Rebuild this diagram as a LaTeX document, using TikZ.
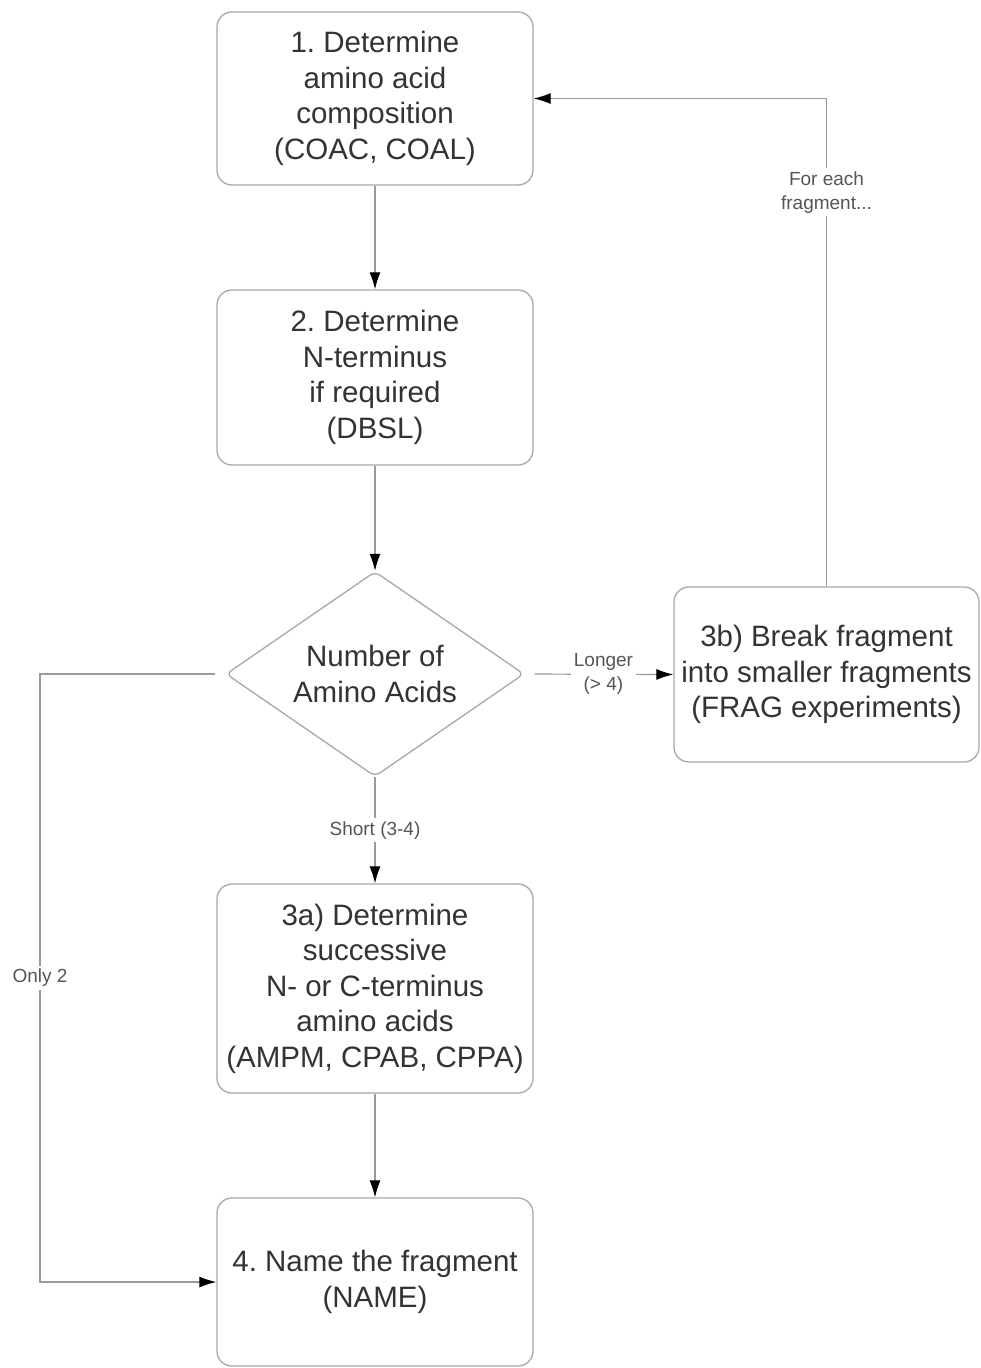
\documentclass[tikz,border=0pt]{standalone}
\usepackage{fontspec}
\setmainfont{Liberation Sans}
\frenchspacing
\usetikzlibrary{shapes.geometric,arrows.meta}
\definecolor{txt}{HTML}{333333}
\definecolor{bord}{HTML}{A8A8A8}
\definecolor{conn}{HTML}{9A9A9A}
\definecolor{labc}{HTML}{555555}
\tikzset{
  stepbox/.style={draw=bord, line width=1.3pt, rounded corners=15pt, rectangle, inner sep=0pt,
    align=center, text=txt, font=\fontsize{29.5}{35.5}\selectfont},
  decision/.style={draw=bord, line width=1.3pt, diamond, aspect=1.45, rounded corners=6pt, inner sep=0pt,
    align=center, text=txt, font=\fontsize{29.5}{35.5}\selectfont,
    minimum width=298pt, minimum height=205pt},
  conn/.style={draw=conn, line width=1.2pt, -{Latex[length=17pt,width=11pt,black]}},
  lab/.style={fill=white, text=labc, align=center, inner sep=3pt, font=\fontsize{19}{24}\selectfont}
}
\begin{document}
\begin{tikzpicture}[x=1pt,y=-1pt]
\useasboundingbox[fill=white] (0,0) rectangle (980,1368);
\node[stepbox, minimum width=316pt, minimum height=173pt] (b1) at (375,98.5)
  {1. Determine\\amino acid\\composition\\(COAC, COAL)};
\node[stepbox, minimum width=316pt, minimum height=175pt] (b2) at (375,377.5)
  {2. Determine\\N-terminus\\if required\\(DBSL)};
\node[decision] (d) at (375,674) {Number of\\Amino Acids};
\node[stepbox, minimum width=305pt, minimum height=175pt] (b3b) at (826.5,674.5)
  {3b) Break fragment\\into smaller fragments\\(FRAG experiments)};
\node[stepbox, minimum width=316pt, minimum height=209pt] (b3a) at (375,988.5)
  {3a) Determine\\successive\\N- or C-terminus\\amino acids\\(AMPM, CPAB, CPPA)};
\node[stepbox, minimum width=316pt, minimum height=168pt] (b4) at (375,1282)
  {4. Name the fragment\\(NAME)};
\coordinate (lc) at (40,674);

\draw[conn] (b1) -- (b2);
\draw[conn] (b2) -- (d);
\draw[conn] (d) -- node[lab]{Short (3-4)} (b3a);
\draw[conn, shorten <=10pt] (d.east) -- node[lab, pos=0.53]{Longer\\(> 4)} (b3b.west);
\draw[conn] (b3b.north) |- node[lab, pos=0.404]{For each\\fragment...} (b1.east);
\draw[conn] (b3a) -- (b4);
\draw[conn, shorten <=10pt] (d.west) -- (lc) -- node[lab]{Only 2} (lc |- b4.west) -- (b4.west);
\end{tikzpicture}
\end{document}
